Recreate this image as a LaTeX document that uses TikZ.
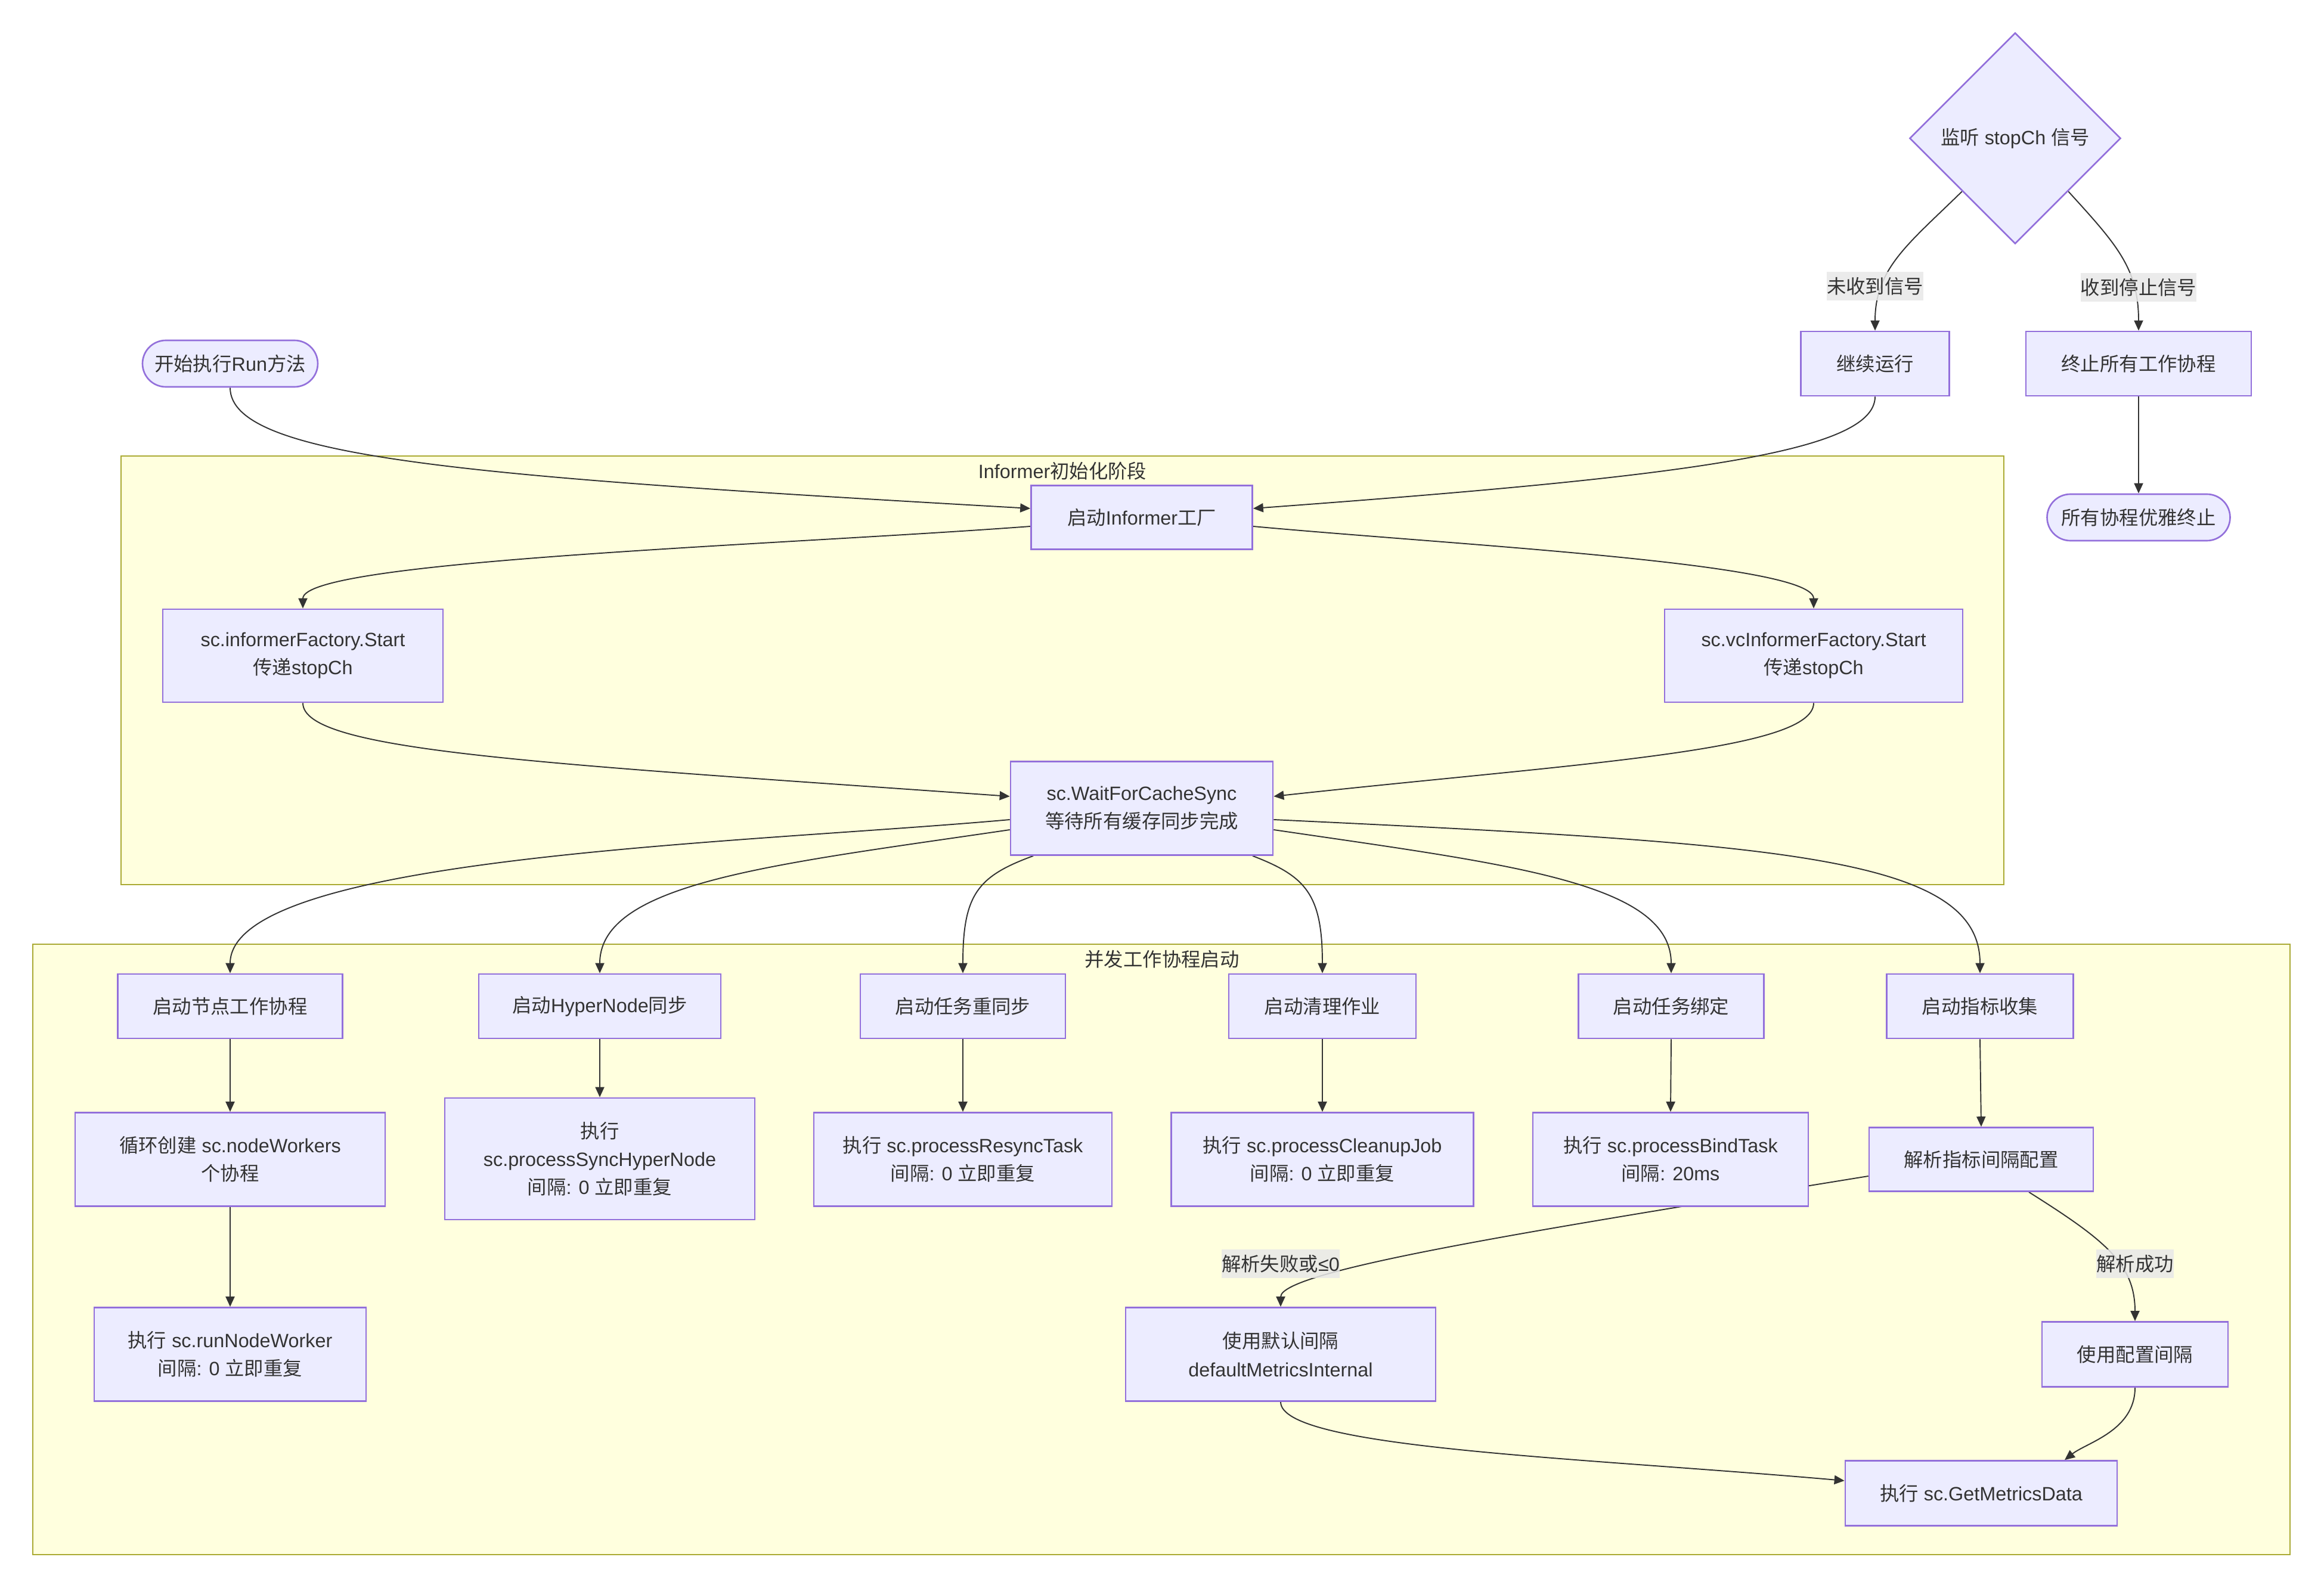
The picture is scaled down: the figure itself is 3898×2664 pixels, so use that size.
\documentclass[tikz,border=0pt]{standalone}
\usepackage{fontspec}
\setmainfont{Liberation Sans}
\newfontfamily\cjkf{Noto Sans CJK SC}
\newcommand{\zh}[1]{{\cjkf #1}}
\usetikzlibrary{shapes.geometric,arrows.meta,calc}
\definecolor{nodefill}{HTML}{ECECFF}
\definecolor{nodeline}{HTML}{9370DB}
\definecolor{clfill}{HTML}{FFFFDE}
\definecolor{clline}{HTML}{AAAA33}
\definecolor{edgec}{HTML}{333333}
\definecolor{lblbg}{HTML}{E8E8E8}
\definecolor{txt}{HTML}{333333}
\pgfdeclarelayer{bg}
\pgfdeclarelayer{edgelayer}
\pgfsetlayers{bg,edgelayer,main}
\begin{document}
\begin{tikzpicture}[x=0.01cm,y=-0.01cm,
  every node/.style={font=\fontsize{9.2pt}{13.4pt}\selectfont, text=txt},
  box/.style={draw=nodeline, fill=nodefill, line width=0.75pt, inner sep=0pt, align=center},
  bx/.style 2 args={box, rectangle, minimum width=#1*0.01cm, minimum height=#2*0.01cm},
  stad/.style 2 args={box, rectangle, rounded corners=#2*0.005cm, minimum width=#1*0.01cm, minimum height=#2*0.01cm},
  dia/.style={box, diamond, aspect=1, minimum width=3.54cm, minimum height=3.54cm},
  ed/.style={draw=edgec, line width=0.55pt, -{Triangle[length=0.17cm,width=0.15cm]}},
  lbl/.style={fill=lblbg, fill opacity=0.85, text opacity=1, inner xsep=0pt, inner ysep=0pt, minimum height=0.47cm},
  cluster/.style={fill=clfill, draw=clline, line width=0.6pt}]
\useasboundingbox (0,0) rectangle (3898,2664);

% clusters
\begin{pgfonlayer}{bg}
\fill[white] (0,0) rectangle (3898,2664);
\draw[cluster] (203,765) rectangle (3361,1484);
\draw[cluster] (55,1584) rectangle (3841,2608);
\end{pgfonlayer}
\node (t1) at (1782,790) {Informer\zh{初始化阶段}};
\node (t2) at (1949,1609) {\zh{并发工作协程启动}};

% top nodes
\node[stad={294}{78}] (start) at (386,610) {\zh{开始执行}Run\zh{方法}};
\node[dia] (dia) at (3380,232) {\zh{监听} stopCh \zh{信号}};
\node[bx={249}{108}] (cont) at (3145,610) {\zh{继续运行}};
\node[bx={378}{108}] (stopall) at (3587,610) {\zh{终止所有工作协程}};
\node[stad={307}{78}] (endn) at (3587,868) {\zh{所有协程优雅终止}};

% informer stage
\node[bx={371}{107}] (inf) at (1915,868) {\zh{启动}Informer\zh{工厂}};
\node[bx={470}{156}] (ifs) at (508,1100) {sc.informerFactory.Start\\\zh{传递}stopCh};
\node[bx={500}{156}] (vcs) at (3042,1100) {sc.vcInformerFactory.Start\\\zh{传递}stopCh};
\node[bx={440}{157}] (wait) at (1915,1356) {sc.WaitForCacheSync\\\zh{等待所有缓存同步完成}};

% row 1
\node[bx={377}{108}] (n1) at (386,1688) {\zh{启动节点工作协程}};
\node[bx={406}{108}] (n2) at (1006,1688) {\zh{启动}HyperNode\zh{同步}};
\node[bx={344}{108}] (n3) at (1615,1688) {\zh{启动任务重同步}};
\node[bx={314}{108}] (n4) at (2218,1688) {\zh{启动清理作业}};
\node[bx={311}{108}] (n5) at (2803,1688) {\zh{启动任务绑定}};
\node[bx={313}{108}] (n6) at (3321,1688) {\zh{启动指标收集}};

% row 2
\node[bx={520}{157}] (m1) at (386,1945) {\zh{循环创建} sc.nodeWorkers\\\zh{个协程}};
\node[bx={520}{204}] (m2) at (1006,1944) {\zh{执行}\\sc.processSyncHyperNode\\\zh{间隔}: 0 \zh{立即重复}};
\node[bx={500}{157}] (m3) at (1615,1945) {\zh{执行} sc.processResyncTask\\\zh{间隔}: 0 \zh{立即重复}};
\node[bx={507}{157}] (m4) at (2218,1945) {\zh{执行} sc.processCleanupJob\\\zh{间隔}: 0 \zh{立即重复}};
\node[bx={462}{157}] (m5) at (2802,1945) {\zh{执行} sc.processBindTask\\\zh{间隔}: 20ms};
\node[bx={376}{107}] (m6) at (3323,1945) {\zh{解析指标间隔配置}};

% row 3
\node[bx={456}{157}] (r1) at (386,2272) {\zh{执行} sc.runNodeWorker\\\zh{间隔}: 0 \zh{立即重复}};
\node[bx={520}{157}] (dflt) at (2148,2272) {\zh{使用默认间隔}\\defaultMetricsInternal};
\node[bx={312}{109}] (cfg) at (3581,2272) {\zh{使用配置间隔}};
\node[bx={456}{109}] (get) at (3323,2505) {\zh{执行} sc.GetMetricsData};

\begin{pgfonlayer}{edgelayer}
\draw[ed] (dia.south west) .. controls (3200,410) and (3145,450) .. (cont.north);
\draw[ed] (dia.south east) .. controls (3550,410) and (3587,450) .. (stopall.north);
\draw[ed] (stopall.south) -- (endn.north);
\draw[ed] (start.south) .. controls (386,770) and (800,800) .. ($(inf.west)+(0,-15)$);
\draw[ed] (cont.south) .. controls (3145,760) and (2820,800) .. ($(inf.east)+(0,-15)$);
\draw[ed] ($(inf.west)+(0,15)$) .. controls (1300,915) and (508,940) .. (ifs.north);
\draw[ed] ($(inf.east)+(0,15)$) .. controls (2450,915) and (3042,945) .. (vcs.north);
\draw[ed] (ifs.south) .. controls (508,1260) and (900,1280) .. ($(wait.west)+(0,-20)$);
\draw[ed] (vcs.south) .. controls (3042,1260) and (2650,1280) .. ($(wait.east)+(0,-20)$);
\draw[ed] ($(wait.west)+(0,19)$) .. controls (1250,1415) and (386,1435) .. (n1.north);
\draw[ed] ($(wait.west)+(0,36)$) .. controls (1300,1450) and (1006,1480) .. (n2.north);
\draw[ed] ($(wait.south)+(-182,0)$) .. controls (1640,1470) and (1615,1500) .. (n3.north);
\draw[ed] ($(wait.south)+(186,0)$) .. controls (2190,1470) and (2218,1500) .. (n4.north);
\draw[ed] ($(wait.east)+(0,36)$) .. controls (2530,1450) and (2803,1480) .. (n5.north);
\draw[ed] ($(wait.east)+(0,19)$) .. controls (2980,1415) and (3321,1435) .. (n6.north);
\draw[ed] (n1.south) -- (m1.north);
\draw[ed] (n2.south) -- (m2.north);
\draw[ed] (n3.south) -- (m3.north);
\draw[ed] (n4.south) -- (m4.north);
\draw[ed] (n5.south) -- (m5.north);
\draw[ed] (n6.south) -- (m6.north);
\draw[ed] (m1.south) -- (r1.north);
\draw[ed] ($(m6.west)+(0,28)$) .. controls (2600,2060) and (2148,2130) .. (dflt.north);
\draw[ed] ($(m6.south)+(80,0)$) .. controls (3530,2080) and (3581,2120) .. (cfg.north);
\draw[ed] (dflt.south) .. controls (2148,2430) and (2650,2445) .. ($(get.west)+(0,-21)$);
\draw[ed] (cfg.south) .. controls (3581,2400) and (3500,2420) .. ($(get.north)+(140,0)$);
\node[lbl] (l1) at (3145,480) {\zh{未收到信号}};
\node[lbl] (l2) at (3587,482) {\zh{收到停止信号}};
\node[lbl] (l3) at (2148,2120) {\zh{解析失败或}≤0};
\node[lbl] (l4) at (3581,2120) {\zh{解析成功}};
\end{pgfonlayer}
\end{tikzpicture}
\end{document}
